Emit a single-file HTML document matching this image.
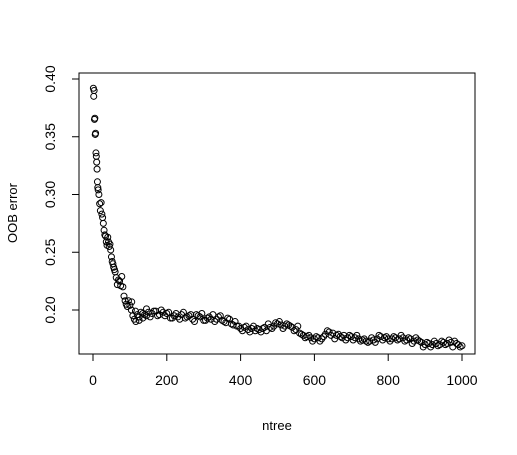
<!DOCTYPE html>
<html><head><meta charset="utf-8"><style>
html,body{margin:0;padding:0;background:#fff;}
svg{display:block;font-family:"Liberation Sans",Arial,sans-serif;}
</style></head><body>
<svg id="chart" width="517" height="455">
  <rect x="79" y="73" width="396" height="281" fill="none" stroke="#000" stroke-width="1"/>
  <g id="xaxis"></g>
  <g id="yaxis"></g>
  <g id="points"></g>
  <text x="277" y="430" font-size="13" text-anchor="middle">ntree</text>
  <text x="17" y="213" font-size="13" text-anchor="middle" transform="rotate(-90 17 213)">OOB error</text>
</svg>
<script>
const ntree = [1,2,3,4,5,6,7,8,9,10,11,12,13,14,16,18,20,22,24,26,28,30,32,34,36,38,40,42,44,46,48,50,52,54,56,58,60,63,66,69,72,75,78,81,84,87,90,93,96,100,104,108,112,116,120,125,130,135,140,145,150,160,170,180,190,200,210,220,230,240,250,260,270,280,290,300,310,320,330,340,350,360,370,380,390,400,410,420,430,440,450,460,470,480,490,500,510,520,530,540,550,560,570,580,590,600,610,620,630,640,650,660,670,680,690,700,710,720,730,740,750,760,770,780,790,800,810,820,830,840,850,860,870,880,890,900,910,920,930,940,950,960,970,980,990,1000];
const oob = [0.392,0.385,0.390,0.365,0.366,0.352,0.353,0.336,0.333,0.328,0.322,0.311,0.306,0.304,0.300,0.292,0.286,0.293,0.283,0.280,0.275,0.269,0.265,0.264,0.259,0.256,0.263,0.259,0.255,0.257,0.252,0.246,0.242,0.240,0.237,0.235,0.233,0.228,0.222,0.226,0.225,0.221,0.229,0.220,0.212,0.208,0.205,0.203,0.208,0.204,0.200,0.195,0.192,0.190,0.196,0.194,0.198,0.193,0.196,0.195,0.198,0.197,0.199,0.196,0.198,0.197,0.193,0.195,0.194,0.196,0.193,0.195,0.192,0.196,0.194,0.191,0.193,0.192,0.190,0.194,0.191,0.189,0.192,0.187,0.186,0.184,0.185,0.183,0.184,0.182,0.183,0.184,0.182,0.185,0.186,0.188,0.187,0.186,0.187,0.185,0.183,0.180,0.178,0.177,0.176,0.175,0.176,0.175,0.179,0.181,0.180,0.178,0.177,0.178,0.176,0.177,0.176,0.175,0.174,0.173,0.173,0.174,0.175,0.177,0.176,0.175,0.175,0.176,0.175,0.176,0.174,0.175,0.173,0.174,0.172,0.170,0.171,0.170,0.171,0.170,0.172,0.171,0.172,0.173,0.170,0.169];
const ntree2 = [105,115,125,135,145,155,165,175,185,195,205,215,225,235,245,255,265,275,285,295,305,315,325,335,345,355,365,375,385,395,405,415,425,435,445,455,465,475,485,495,505,515,525,535,545,555,565,575,585,595,605,615,625,635,645,655,665,675,685,695,705,715,725,735,745,755,765,775,785,795,805,815,825,835,845,855,865,875,885,895,905,915,925,935,945,955,965,975,985,995];
const oob2 = [0.207,0.199,0.191,0.197,0.201,0.194,0.199,0.195,0.200,0.195,0.198,0.193,0.197,0.192,0.198,0.194,0.196,0.190,0.195,0.197,0.191,0.194,0.196,0.192,0.195,0.190,0.193,0.188,0.190,0.186,0.182,0.186,0.181,0.186,0.184,0.181,0.185,0.188,0.184,0.189,0.190,0.184,0.188,0.186,0.182,0.186,0.179,0.176,0.178,0.173,0.177,0.173,0.177,0.182,0.178,0.175,0.179,0.176,0.174,0.178,0.174,0.178,0.173,0.175,0.172,0.176,0.172,0.178,0.174,0.177,0.173,0.177,0.174,0.178,0.173,0.176,0.171,0.176,0.173,0.168,0.172,0.168,0.173,0.169,0.173,0.170,0.174,0.168,0.171,0.168];
const xTicks = [0,200,400,600,800,1000];
const yTicks = [0.20,0.25,0.30,0.35,0.40];
const yTickLabels = ["0.20","0.25","0.30","0.35","0.40"];

const NS = "http://www.w3.org/2000/svg";
function xs(v){ return 93 + (v/1000)*369; }
function ys(v){ return 79 + (0.40 - v)*1155; }
function mk(tag, attrs, parent){ const e=document.createElementNS(NS,tag); for(const k in attrs) e.setAttribute(k,attrs[k]); parent.appendChild(e); return e; }

const gx = document.getElementById('xaxis');
mk('line',{x1:xs(xTicks[0]),x2:xs(xTicks[xTicks.length-1]),y1:354,y2:354,stroke:'#000'},gx);
xTicks.forEach(t=>{
  const l = mk('line',{x1:xs(t),x2:xs(t),y1:354,y2:361,stroke:'#000'},gx);
  
  
  const tx = mk('text',{x:xs(t),y:385,'font-size':14,'text-anchor':'middle'},gx);
  tx.textContent = String(t);
  
  
});
const gy = document.getElementById('yaxis');
mk('line',{x1:79,x2:79,y1:ys(yTicks[0]),y2:ys(yTicks[yTicks.length-1]),stroke:'#000'},gy);
yTicks.forEach((t,i)=>{
  const l = mk('line',{x1:72,x2:79,y1:ys(t),y2:ys(t),stroke:'#000'},gy);
  
  
  const tx = mk('text',{x:55,y:ys(t),'font-size':14,'text-anchor':'middle',transform:`rotate(-90 55 ${ys(t)})`},gy);
  tx.textContent = yTickLabels[i];
  
  
});
const gp = document.getElementById('points');
function drawPts(xsArr, ysArr){
  xsArr.forEach((n,i)=>{
    const c = mk('circle',{cx:xs(n),cy:ys(ysArr[i]),r:3,fill:'none',stroke:'#000','stroke-width':1},gp);
    
    
  });
}
drawPts(ntree, oob);
drawPts(ntree2, oob2);
</script>
</body></html>
